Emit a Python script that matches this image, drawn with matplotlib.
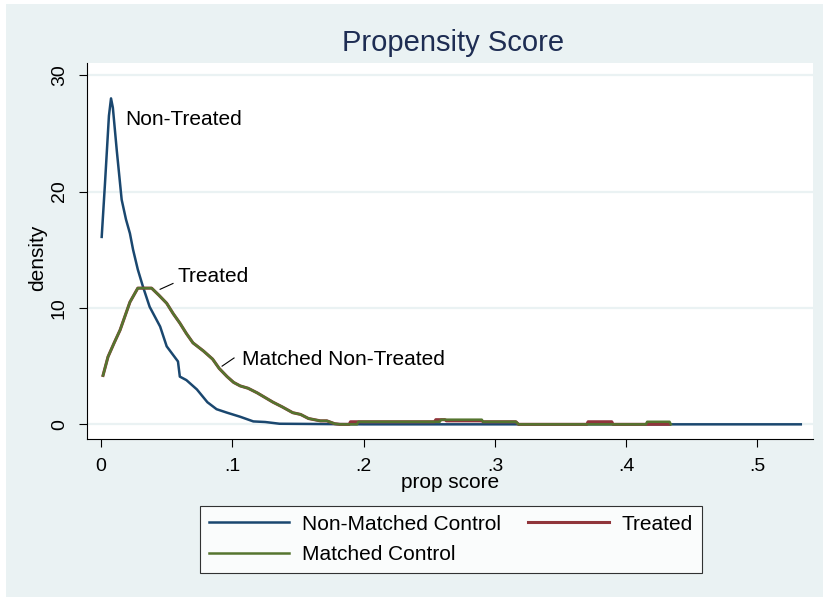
import matplotlib
matplotlib.use("Agg")
import matplotlib.pyplot as plt
from matplotlib.patches import Rectangle

plt.rcParams['font.family'] = ['Liberation Sans', 'DejaVu Sans']

# Non-Matched Control density
nm_x = [0.0005, 0.003, 0.006, 0.0076, 0.009, 0.012, 0.0157, 0.019, 0.022, 0.0244,
        0.028, 0.032, 0.037, 0.045, 0.050, 0.0586, 0.060, 0.065, 0.073, 0.081,
        0.088, 0.096, 0.106, 0.116, 0.125, 0.136, 0.20, 0.30, 0.40, 0.533]
nm_y = [16.1, 20.7, 26.5, 28.0, 27.2, 23.5, 19.3, 17.6, 16.4, 15.0,
        13.3, 11.8, 10.1, 8.4, 6.7, 5.4, 4.1, 3.8, 3.0, 1.9,
        1.3, 1.0, 0.65, 0.25, 0.2, 0.05, 0.0, 0.0, 0.0, 0.0]

# Treated density
tr_x = [0.0015, 0.0053, 0.010, 0.0145, 0.022, 0.028, 0.033, 0.0385, 0.044, 0.050,
        0.055, 0.060, 0.065, 0.070, 0.078, 0.085, 0.090, 0.096, 0.101, 0.106,
        0.112, 0.119, 0.125, 0.131, 0.138, 0.146, 0.152, 0.158, 0.167, 0.172,
        0.178, 0.182, 0.189, 0.190, 0.254, 0.255, 0.262, 0.263, 0.290, 0.291,
        0.316, 0.318, 0.370, 0.371, 0.389, 0.390, 0.433]
tr_y = [4.2, 5.8, 7.0, 8.1, 10.5, 11.7, 11.7, 11.7, 11.1, 10.4,
        9.5, 8.7, 7.8, 7.0, 6.3, 5.6, 4.8, 4.1, 3.6, 3.3,
        3.1, 2.7, 2.3, 1.9, 1.5, 1.0, 0.85, 0.5, 0.3, 0.3,
        0.05, 0.0, 0.0, 0.22, 0.22, 0.4, 0.4, 0.3, 0.3, 0.22,
        0.22, 0.0, 0.0, 0.22, 0.22, 0.0, 0.0]

# Matched Control density
mc_x = [0.0015, 0.0053, 0.010, 0.0145, 0.022, 0.028, 0.033, 0.0385, 0.044, 0.050,
        0.055, 0.060, 0.065, 0.070, 0.078, 0.085, 0.090, 0.096, 0.101, 0.106,
        0.112, 0.119, 0.125, 0.131, 0.138, 0.146, 0.152, 0.158, 0.167, 0.172,
        0.178, 0.182, 0.195, 0.196, 0.258, 0.259, 0.290, 0.291, 0.316, 0.318,
        0.415, 0.416, 0.433, 0.434]
mc_y = [4.2, 5.8, 7.0, 8.1, 10.5, 11.7, 11.7, 11.7, 11.1, 10.4,
        9.5, 8.7, 7.8, 7.0, 6.3, 5.6, 4.8, 4.1, 3.6, 3.3,
        3.1, 2.7, 2.3, 1.9, 1.5, 1.0, 0.85, 0.5, 0.3, 0.3,
        0.05, 0.0, 0.0, 0.22, 0.22, 0.4, 0.4, 0.22, 0.22, 0.0,
        0.0, 0.22, 0.22, 0.0]

x_ticks = [0, 0.1, 0.2, 0.3, 0.4, 0.5]
x_labels = ["0", ".1", ".2", ".3", ".4", ".5"]
y_ticks = [0, 10, 20, 30]

BG = "#EAF2F3"
NAVY = "#1A476F"
MAROON = "#90353B"
GREEN = "#55752F"

fig = plt.figure(figsize=(8.23, 5.98), dpi=100)
fig.patches.append(Rectangle((6 / 823, 1 / 598), 817 / 823, 593 / 598,
                             transform=fig.transFigure, facecolor=BG,
                             edgecolor="none", zorder=-10))

ax = fig.add_axes([87 / 823, 1 - 439 / 598, 726 / 823, 376 / 598])
ax.set_facecolor("white")

for yt in y_ticks:
    ax.axhline(yt, color=BG, lw=1.6, zorder=0)

l1, = ax.plot(nm_x, nm_y, color=NAVY, lw=1.8, label="Non-Matched Control", zorder=3)
l2, = ax.plot(tr_x, tr_y, color=MAROON, lw=2.2, label="Treated", zorder=4)
l3, = ax.plot(mc_x, mc_y, color=GREEN, lw=1.8, label="Matched Control", zorder=5)

ax.set_xlim(-0.0107, 0.5423)
ax.set_ylim(-1.26, 31.04)
ax.set_xticks(x_ticks)
ax.set_xticklabels(x_labels)
ax.set_yticks(y_ticks)

for s in ["top", "right"]:
    ax.spines[s].set_visible(False)
for s in ["left", "bottom"]:
    ax.spines[s].set_linewidth(0.8)
    ax.spines[s].set_color("black")

ax.tick_params(axis="both", length=5.8, width=0.8, pad=8, labelsize=14)
for lbl in ax.get_yticklabels():
    lbl.set_rotation(90)
    lbl.set_va("center")

ax.set_xlabel("prop score", fontsize=15)
ax.xaxis.set_label_coords(0.5, -0.116)
ax.xaxis.label.set_va("center")
ax.set_ylabel("density", fontsize=15)
ax.yaxis.set_label_coords(-0.0675, 0.481)
ax.yaxis.label.set_va("center")

# annotations
ax.text(0.0183, 26.2, "Non-Treated", fontsize=15, va="center", ha="left")
ax.text(0.0579, 12.7, "Treated", fontsize=15, va="center", ha="left")
ax.plot([0.045, 0.0548], [11.6, 12.1], color="black", lw=0.8)
ax.text(0.1074, 5.6, "Matched Non-Treated", fontsize=15, va="center", ha="left")
ax.plot([0.0922, 0.1013], [5.0, 5.7], color="black", lw=0.8)

fig.text(453 / 823, 1 - 43 / 598, "Propensity Score", fontsize=21,
         color="#1E2D53", ha="center", va="center")

leg = fig.legend([l1, l3, l2], ["Non-Matched Control", "Matched Control", "Treated"],
                 ncol=2, loc="center", bbox_to_anchor=(451 / 823, 1 - 539.5 / 598),
                 fontsize=15, frameon=True, fancybox=False, edgecolor="black",
                 handlelength=3.85, handletextpad=0.63, columnspacing=1.3,
                 labelspacing=0.55, borderpad=0.42)
leg.get_frame().set_linewidth(0.8)
leg.get_frame().set_facecolor("white")

fig.savefig("out.png", dpi=100)
